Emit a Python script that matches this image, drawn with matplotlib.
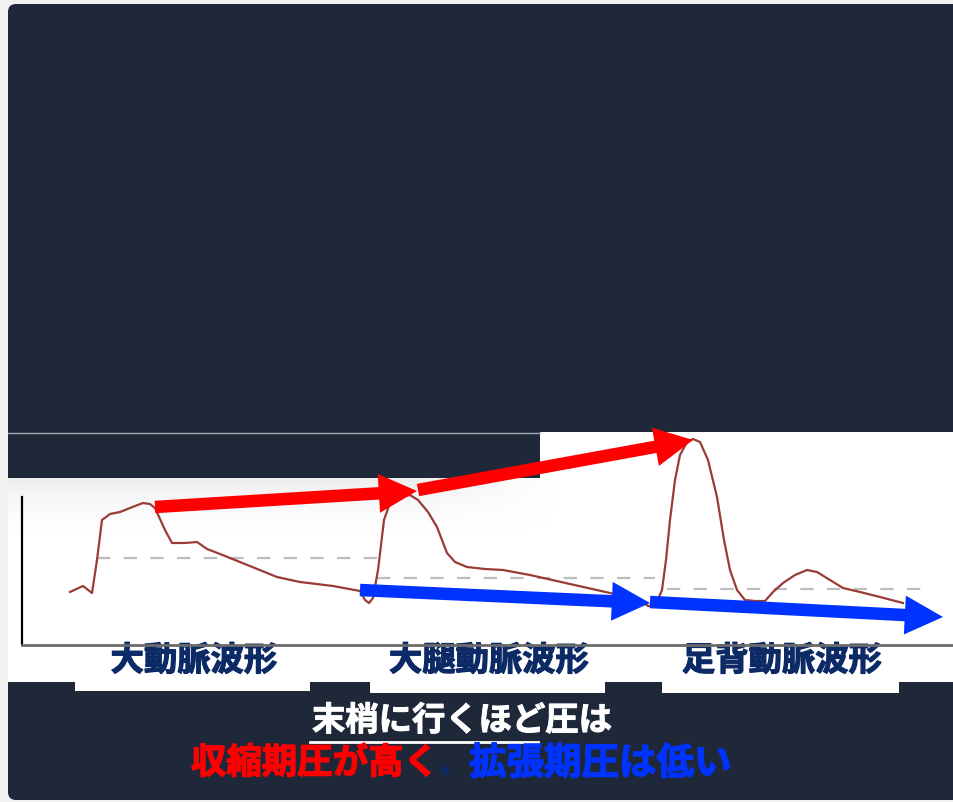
import matplotlib
matplotlib.use("Agg")
import numpy as np
import matplotlib.pyplot as plt
import matplotlib.patheffects as pe
from matplotlib.patches import FancyBboxPatch, Polygon

plt.rcParams['font.family'] = ['Noto Sans CJK JP', 'DejaVu Sans']

# ---------------- data ----------------
# waveform: time (arbitrary units) and pressure (arbitrary units)
wave_t = [48, 61, 70, 75, 80, 88, 98, 113, 121, 128, 133, 143, 150, 163, 175, 185, 198, 213,
          255, 278, 311, 338, 343, 347, 351, 356, 362, 368, 378, 388, 396, 406, 415, 425, 433,
          445, 463, 481, 508, 548, 588, 618, 626, 633, 640, 644, 648, 653, 658, 665, 671, 678,
          686, 695, 702, 708, 715, 723, 733, 743, 751, 761, 773, 785, 795, 808, 821, 838, 858, 881]
wave_p = [53, 59, 52, 85, 125, 131, 133, 139, 142, 141, 137, 115, 102, 102, 103, 96, 91, 85,
          68, 63, 59, 54, 45, 42, 47, 75, 125, 142, 148, 150, 145, 133, 118, 92, 83,
          78, 76, 75, 70, 61, 52, 45, 39, 39, 55, 85, 125, 165, 190, 203, 206, 203,
          185, 148, 105, 75, 55, 45, 44, 44, 53, 62, 70, 75, 73, 65, 57, 53, 48, 42]

# mean-pressure reference levels (dashed) per site
mean_start = [75, 355, 645]
mean_end = [355, 633, 905]
mean_level = [87, 67, 56]

# systolic trend arrows (red) and diastolic trend arrows (blue): (t0, p0, t1, p1)
sys_arrows = [(133, 138, 395, 154), (396, 155, 671, 205)]
dia_arrows = [(338, 55, 628, 42), (628, 43, 921, 28)]

site_labels = ["大動脈波形", "大腿動脈波形", "足背動脈波形"]
caption_top = "末梢に行くほど圧は"
caption_red = "収縮期圧が高く"
caption_sep = "、"
caption_blue = "拡張期圧は低い"

# ---------------- figure ----------------
W, H = 954, 802
fig = plt.figure(figsize=(W / 100, H / 100), dpi=100, facecolor='#f2f2f2')

# background layout axes in pixel coordinates
bg = fig.add_axes([0, 0, 1, 1])
bg.set_xlim(0, W)
bg.set_ylim(H, 0)
bg.axis('off')

dark = '#1f2839'
bg.add_patch(FancyBboxPatch((8, 4), 980, 796, boxstyle='round,pad=0,rounding_size=8',
                            fc=dark, ec='none'))
white_poly = [(8, 478), (540, 478), (540, 432), (954, 432), (954, 682), (899, 682), (899, 693),
              (662, 693), (662, 682), (605, 682), (605, 693), (370, 693), (370, 682),
              (310, 682), (310, 691), (75, 691), (75, 682), (8, 682)]
bg.add_patch(Polygon(white_poly, closed=True, fc='white', ec='none'))
bg.plot([8, 540], [433, 433], color='#a8adb5', lw=1)

# faint soft shadow below the dark bar
ny, nx = 60, 120
gy = np.linspace(0, 1, ny)[:, None]
gx = np.linspace(0, 1, nx)[None, :]
shade = np.ones((ny, nx, 4))
shade[..., :3] = 0.88
shade[..., 3] = 0.55 * (1 - gy) ** 1.8 * np.clip((1 - gx) / 0.25, 0, 1)
bg.imshow(shade, extent=(8, 560, 540, 478), aspect='auto', interpolation='bilinear', zorder=1)

# chart axes
ax = fig.add_axes([22 / W, (H - 645) / H, 932 / W, 213 / H])
ax.set_xlim(0, 932)
ax.set_ylim(0, 213)
ax.patch.set_alpha(0)
for s in ['top', 'right']:
    ax.spines[s].set_visible(False)
ax.spines['left'].set_bounds(0, 148)
ax.spines['left'].set_color('black')
ax.spines['left'].set_linewidth(1.6)
ax.spines['bottom'].set_color('#6b6b6b')
ax.spines['bottom'].set_linewidth(2)
ax.set_xticks([])
ax.set_yticks([])

for t0, t1, lv in zip(mean_start, mean_end, mean_level):
    ax.plot([t0, t1], [lv, lv], color='#bdbdbd', lw=1.6, dashes=(6, 6))

ax.plot(wave_t, wave_p, color='#9a3b36', lw=1.6, solid_joinstyle='round')

def arrow(seg, color):
    t0, p0, t1, p1 = seg
    ax.annotate('', xy=(t1, p1), xytext=(t0, p0), annotation_clip=False,
                arrowprops=dict(arrowstyle='simple,head_length=2.75,head_width=2.8,tail_width=0.9',
                                fc=color, ec='none', shrinkA=0, shrinkB=0, mutation_scale=10))

for seg in sys_arrows:
    arrow(seg, '#ff0000')
for seg in dia_arrows:
    arrow(seg, '#0033ff')

# site labels
navy = '#0b2a66'
def heavy(c, w=0.9):
    return [pe.withStroke(linewidth=w, foreground=c)]

for lab, cx in zip(site_labels, [194, 489, 782]):
    bg.text(cx, 661, lab, ha='center', va='center', fontsize=24, fontweight='bold', color=navy,
            path_effects=heavy(navy))

# captions
bg.text(312, 721, caption_top, ha='left', va='center', fontsize=24, fontweight='bold', color='white',
        path_effects=heavy('white', 0.7))
bg.plot([310, 538], [742, 742], color='white', lw=2)
bg.text(191, 763, caption_red, ha='left', va='center', fontsize=25.5, fontweight='bold', color='#ff0000',
        path_effects=heavy('#ff0000'))
bg.text(439, 764, caption_sep, ha='left', va='center', fontsize=21, fontweight='bold', color=navy,
        path_effects=heavy(navy))
bg.text(469, 763, caption_blue, ha='left', va='center', fontsize=27, fontweight='bold', color='#0033ff',
        path_effects=heavy('#0033ff'))

fig.savefig('out.png', dpi=100, facecolor=fig.get_facecolor())
